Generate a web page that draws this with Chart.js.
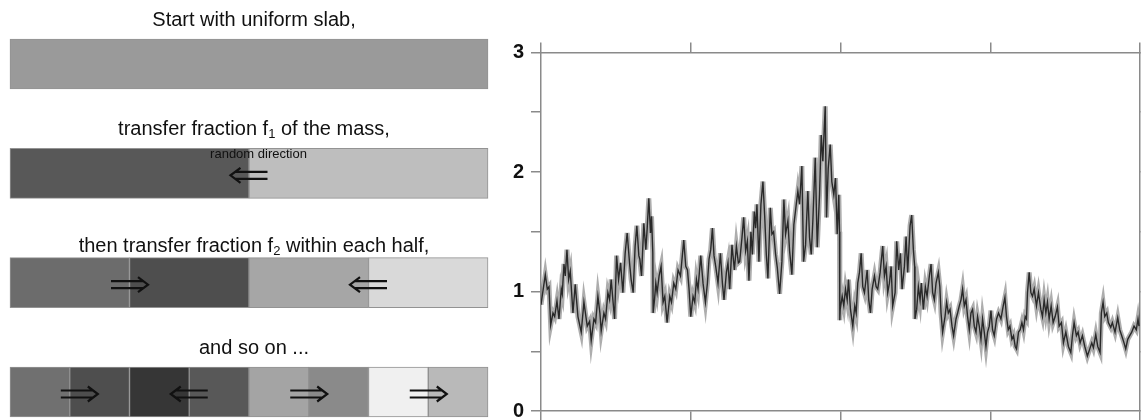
<!DOCTYPE html>
<html>
<head>
<meta charset="utf-8">
<script src="https://cdn.jsdelivr.net/npm/chart.js@4.4.1/dist/chart.umd.min.js"></script>
<style>
html, body { margin: 0; padding: 0; background: #fff; overflow: hidden; width: 1141px; height: 420px; }
#slabs { position: absolute; left: 0; top: 0; }
#series { position: absolute; left: 500px; top: 0; }
</style>
</head>
<body>
<canvas id="slabs" width="500" height="420"></canvas>
<canvas id="series" width="660" height="430"></canvas>
<script>
// left panel: the cascade steps
const slabTitles = ['Start with uniform slab,', 'transfer fraction f₁ of the mass,', 'then transfer fraction f₂ within each half,', 'and so on ...'];
const slabWidths = [
	[1],
	[0.5, 0.5],
	[0.25, 0.25, 0.25, 0.25],
	[0.125, 0.125, 0.125, 0.125, 0.125, 0.125, 0.125, 0.125],
];
// grey level of each piece (0 black .. 255 white)
const slabGray = [
	[154],
	[88, 190],
	[108, 78, 166, 217],
	[112, 78, 54, 88, 164, 138, 240, 185],
];
const arrowAt = [[], [0.5], [0.25, 0.75], [0.145, 0.375, 0.625, 0.875]];
const arrowDir = [[], [-1], [1, -1], [1, -1, 1, 1]];
const noteText = 'random direction';

// right panel: one realisation of the cascade
const traceX = [
	0, 4.3, 6.3, 8, 9.7, 12, 13.7, 16, 18, 20.3, 21.3, 23, 24.3, 26, 27.7, 29.3, 32, 34.3, 37, 40.3, 43, 46.3, 48.7, 50.3,
	53, 54.7, 57, 59, 60.3, 63, 64.7, 67, 68.7, 70.3, 72, 73.7, 75.7, 77.7, 79.7, 82, 84.3, 86.3, 88.7, 90.3, 92.3, 94.3, 96, 98,
	99, 100.7, 103, 105, 106.3, 108, 109.7, 110.7, 112, 112.3, 113.7, 115, 116.3, 118.3, 120.3, 122.3, 124, 126.3, 129, 130.7,
	133, 135, 137.3, 139.7, 143, 145, 146.7, 148.3, 150, 152.3, 154, 155.7, 157.3, 160, 162.3, 164.7, 166.7, 168.3, 170, 171.7,
	173.3, 175, 177.3, 179.7, 181.7, 183.3, 185.7, 187.3, 189, 191.3, 193.7, 195.7, 197.7,
	199, 201.3, 203, 205, 206.7, 208.3, 210.3, 211.7, 213.7, 215, 216.3, 218.3, 220.3, 222.3, 224, 225.7, 227.3, 229.7, 231.3, 233,
	235, 236.7, 239, 241.3, 243.3, 245, 247.3, 249, 251.3, 253.3, 255.7, 257.3, 259, 261.3, 263, 265, 267.3, 269, 270.7, 272.3,
	274.7, 276.7, 279, 280.7, 282.3, 284.7, 286, 287.7, 289.7, 291.3, 293.3, 295, 296.7, 298.3, 299, 299.3,
	299.7, 301.7, 303.3, 305, 306.7, 308, 310, 312.3, 314.3, 315.7, 317.3, 319, 320.7, 322.3, 324, 326.7, 328.3, 330, 331.7, 334,
	335.7, 337.3, 339.7, 342.3, 344, 345.7, 347.3, 349, 350.7, 352.3, 354.7, 356.3, 358.3, 360, 361.7, 364, 365.7, 367.3, 369.7, 371.3,
	373, 374.3, 374.6, 376.3, 378, 379.7, 381, 383, 385, 386.7, 389, 390.7, 392.3, 394, 395.7, 398,
	399.5, 400.7, 402.3, 404.7, 406.3, 408, 409.7, 411.7, 413.3, 415.7, 417.3, 419, 420.7, 422.3, 424, 425.7, 427.3, 429, 430.7, 432.3,
	434, 435.7, 437.3, 439, 440.7, 442.3, 444, 445.7, 447.3, 449, 450.7, 452.3, 454, 456.3, 458.3, 460.7, 463, 464.7, 466.3, 468,
	469.7, 471.7, 473.3, 475, 476.3, 478.3, 480, 481.7, 483.3, 485, 486.3, 487.3, 489, 490.7, 492.3, 494, 496.3, 498.3,
	499.5, 500.7, 502.3, 504, 505.7, 507.3, 509, 511, 513, 515, 517.3, 519, 521.3, 523.3, 525.7, 528.3, 530.7, 532.3, 534, 536.3,
	538, 540, 542.3, 544.7, 547.3, 549.7, 551.7, 553.3, 555.7, 557.7, 560, 561.3, 563, 564.7, 566.7, 568.3, 570.7, 572.3, 575, 577.7,
	579.7, 581.7, 584, 585.7, 587.7, 589.7, 591.7, 594, 596.3, 598, 599,
];
const traceY = [
	0.89, 1.14, 1.02, 1.04, 0.72, 0.82, 0.79, 0.92, 0.77, 1.02, 0.98, 1.23, 1.13, 1.35, 1.10, 1.17, 0.82, 1.06, 0.79, 0.66, 0.91, 0.71, 0.75, 0.59,
	0.77, 0.74, 0.96, 0.82, 0.67, 0.82, 0.77, 0.99, 0.93, 1.10, 0.93, 0.77, 1.30, 1.10, 1.24, 0.99, 1.32, 1.49, 1.24, 1.10, 0.99, 1.38, 1.55, 1.30,
	1.27, 1.13, 1.57, 1.35, 1.52, 1.78, 1.49, 1.63, 1.32, 0.82, 0.93, 1.07, 0.99, 1.13, 1.21, 0.91, 0.96, 0.74, 0.96, 0.91,
	1.07, 1.02, 1.18, 1.13, 1.43, 1.21, 1.18, 1.02, 0.79, 0.96, 0.91, 1.10, 1.02, 1.30, 1.07, 0.91, 1.07, 1.27, 1.35, 1.53,
	1.30, 1.21, 1.07, 1.32, 1.07, 0.93, 1.16, 1.24, 1.02, 1.39, 1.18, 1.38, 1.24,
	1.25, 1.45, 1.62, 1.34, 1.42, 1.09, 1.50, 1.31, 1.67, 1.53, 1.73, 1.25, 1.73, 1.92, 1.64, 1.31, 1.11, 1.70, 1.48, 1.50,
	1.31, 1.20, 0.98, 1.25, 1.77, 1.48, 1.59, 1.34, 1.14, 1.56, 1.73, 1.84, 1.73, 2.05, 1.25, 1.39, 1.84, 1.45, 1.31, 1.59,
	2.12, 1.37, 1.81, 2.31, 2.09, 2.55, 1.62, 2.03, 2.23, 1.92, 1.81, 1.95, 1.48, 1.81, 1.50, 0.76,
	0.85, 0.96, 0.88, 1.02, 0.93, 1.10, 0.85, 0.71, 0.88, 0.82, 1.07, 1.16, 1.32, 1.04, 0.99, 1.18, 0.93, 0.82, 1.02, 1.13,
	1.04, 1.02, 1.16, 1.38, 1.13, 1.21, 0.99, 1.07, 1.21, 0.88, 0.99, 1.42, 1.18, 1.32, 1.02, 1.21, 1.46, 1.16, 1.55, 1.64,
	1.35, 1.21, 0.77, 0.85, 1.04, 0.93, 1.07, 0.85, 1.04, 0.96, 1.13, 1.23, 0.99, 0.93, 1.07, 1.16,
	1.04, 0.82, 0.66, 0.79, 0.91, 0.82, 0.85, 0.71, 0.63, 0.77, 0.82, 0.88, 0.93, 1.02, 0.88, 0.93, 0.79, 0.68, 0.82, 0.85,
	0.71, 0.66, 0.79, 0.71, 0.60, 0.77, 0.66, 0.54, 0.66, 0.71, 0.84, 0.68, 0.63, 0.77, 0.82, 0.77, 0.88, 0.95, 0.79, 0.68,
	0.71, 0.60, 0.63, 0.54, 0.52, 0.66, 0.68, 0.74, 0.68, 0.79, 0.77, 0.99, 1.16, 0.99, 0.96, 1.02, 0.88, 0.99,
	0.92, 0.85, 0.79, 0.93, 0.82, 0.91, 0.77, 0.88, 0.74, 0.79, 0.87, 0.71, 0.74, 0.57, 0.66, 0.54, 0.49, 0.63, 0.74, 0.63,
	0.66, 0.57, 0.63, 0.54, 0.46, 0.52, 0.57, 0.53, 0.64, 0.54, 0.49, 0.82, 0.91, 0.79, 0.82, 0.74, 0.70, 0.74, 0.66, 0.78,
	0.68, 0.63, 0.57, 0.52, 0.60, 0.63, 0.66, 0.71, 0.68, 0.77, 0.71,
];
const xTicks = [0, 150, 300, 450, 600];
const yTicks = [0, 1, 2, 3];

const TEXT = '#111';
const AXIS = '#8a8a8a';
const FAMILY = '"Liberation Sans", Arial, Helvetica, sans-serif';

function grey(v) {
	return 'rgb(' + v + ',' + v + ',' + v + ')';
}

function drawTitle(ctx, text, cx, baseY) {
	const subs = '₀₁₂₃₄₅₆₇₈₉';
	const parts = [];
	for (const ch of text) {
		const k = subs.indexOf(ch);
		const sub = k >= 0;
		const c = sub ? String(k) : ch;
		const last = parts[parts.length - 1];
		if (last && last.sub === sub) {
			last.s += c;
		} else {
			parts.push({ s: c, sub: sub });
		}
	}
	ctx.textAlign = 'left';
	ctx.textBaseline = 'alphabetic';
	let w = 0;
	parts.forEach((p) => {
		ctx.font = (p.sub ? '13px ' : '20px ') + FAMILY;
		p.w = ctx.measureText(p.s).width;
		w += p.w;
	});
	let x = cx - w / 2;
	parts.forEach((p) => {
		ctx.font = (p.sub ? '13px ' : '20px ') + FAMILY;
		ctx.fillText(p.s, x, baseY + (p.sub ? 3 : 0));
		x += p.w;
	});
}

function drawArrow(ctx, cx, cy, dir) {
	const half = 18.5;
	const tip = cx + dir * half;
	const tail = cx - dir * half;
	ctx.beginPath();
	ctx.moveTo(tail, cy - 3.5);
	ctx.lineTo(tip - dir * 5, cy - 3.5);
	ctx.moveTo(tail, cy + 3.5);
	ctx.lineTo(tip - dir * 5, cy + 3.5);
	ctx.moveTo(tip - dir * 10, cy - 7.5);
	ctx.lineTo(tip, cy);
	ctx.lineTo(tip - dir * 10, cy + 7.5);
	ctx.stroke();
}

const slabDecor = {
	id: 'slabDecor',
	afterDatasetsDraw(chart) {
		const { ctx, chartArea, scales } = chart;
		const mid = (chartArea.left + chartArea.right) / 2 + 5;
		const titleLift = [38, 38.5, 30.5, 38];

		ctx.save();
		ctx.fillStyle = TEXT;
		ctx.strokeStyle = TEXT;
		ctx.lineWidth = 2.2;
		slabTitles.forEach((t, r) => {
			const cy = scales.y.getPixelForValue(r);
			drawTitle(ctx, t, mid, cy - titleLift[r]);
			arrowAt[r].forEach((a, k) => {
				drawArrow(ctx, scales.x.getPixelForValue(a), cy + 2, arrowDir[r][k]);
			});
		});

		// note above the first arrow
		const noteY = scales.y.getPixelForValue(1) - 15.5;
		ctx.font = '13px ' + FAMILY;
		ctx.textAlign = 'center';
		ctx.fillText(noteText, scales.x.getPixelForValue(arrowAt[1][0]) + 9.5, noteY);
		ctx.restore();
	},
};

function slabChart() {
	const ctx = document.getElementById('slabs');

	if (!ctx) {
		return;
	}

	const datasets = [];
	for (let j = 0; j < 8; j++) {
		datasets.push({
			data: slabWidths.map((w) => (w[j] === undefined ? null : w[j])),
			backgroundColor: slabGray.map((g) => (g[j] === undefined ? 'transparent' : grey(g[j]))),
			borderColor: 'rgba(135, 135, 135, 0.9)',
			borderWidth: 1,
			borderSkipped: false,
			barThickness: 50,
			clip: false,
		});
	}

	new Chart(ctx, {
		type: 'bar',
		data: {
			labels: slabTitles,
			datasets: datasets,
		},
		options: {
			indexAxis: 'y',
			responsive: false,
			animation: false,
			events: [],
			layout: {
				padding: { top: 64, bottom: 28, left: 10, right: 12 },
			},
			plugins: {
				legend: { display: false },
				tooltip: { enabled: false },
			},
			scales: {
				x: { stacked: true, min: 0, max: 1, display: false },
				y: { stacked: true, offset: false, display: false },
			},
		},
		plugins: [slabDecor],
	});
}

function seriesChart() {
	const ctx = document.getElementById('series');

	if (!ctx) {
		return;
	}

	const points = traceX.map((x, i) => ({ x: x, y: traceY[i] }));

	const grid = {
		drawOnChartArea: false,
		drawTicks: true,
		tickLength: 10,
		color: AXIS,
		lineWidth: 1.5,
	};
	const border = { display: true, color: AXIS, width: 1.5 };
	const fixX = (s) => {
		s.ticks = xTicks.map((v) => ({ value: v }));
	};
	const fixY = (s) => {
		const t = [];
		for (let v = 0; v <= 3; v += 0.5) {
			t.push({ value: v });
		}
		s.ticks = t;
	};

	new Chart(ctx, {
		type: 'line',
		data: {
			datasets: [
				{
					data: points,
					borderColor: 'rgba(60, 60, 60, 0.42)',
					borderWidth: 5,
					borderJoinStyle: 'miter',
					pointRadius: 0,
					tension: 0,
				},
				{
					data: points,
					borderColor: '#1c1c1c',
					borderWidth: 1.4,
					pointRadius: 0,
					tension: 0,
				},
			],
		},
		options: {
			responsive: false,
			animation: false,
			events: [],
			layout: {
				padding: { top: 42.5, bottom: 8.3, left: 0, right: 10 },
			},
			plugins: {
				legend: { display: false },
				tooltip: { enabled: false },
			},
			scales: {
				x: {
					type: 'linear',
					position: 'bottom',
					min: 0,
					max: 600,
					ticks: { display: false },
					afterBuildTicks: fixX,
					grid: grid,
					border: border,
					afterFit: (s) => {
						s.height = 10;
					},
				},
				x2: {
					type: 'linear',
					position: 'top',
					min: 0,
					max: 600,
					ticks: { display: false },
					afterBuildTicks: fixX,
					grid: grid,
					border: border,
					afterFit: (s) => {
						s.height = 10;
					},
				},
				y: {
					type: 'linear',
					position: 'left',
					min: 0,
					max: 3,
					afterBuildTicks: fixY,
					ticks: {
						padding: 7,
						color: TEXT,
						font: { family: FAMILY, size: 20, weight: 'bold' },
						callback: (v) => (yTicks.includes(v) ? String(v) : ''),
					},
					grid: grid,
					border: border,
					afterFit: (s) => {
						s.width = 41;
					},
				},
				y2: {
					type: 'linear',
					position: 'right',
					min: 0,
					max: 3,
					afterBuildTicks: fixY,
					ticks: { display: false },
					grid: grid,
					border: border,
					afterFit: (s) => {
						s.width = 10;
					},
				},
			},
		},
	});
}

slabChart();
seriesChart();
</script>
</body>
</html>
